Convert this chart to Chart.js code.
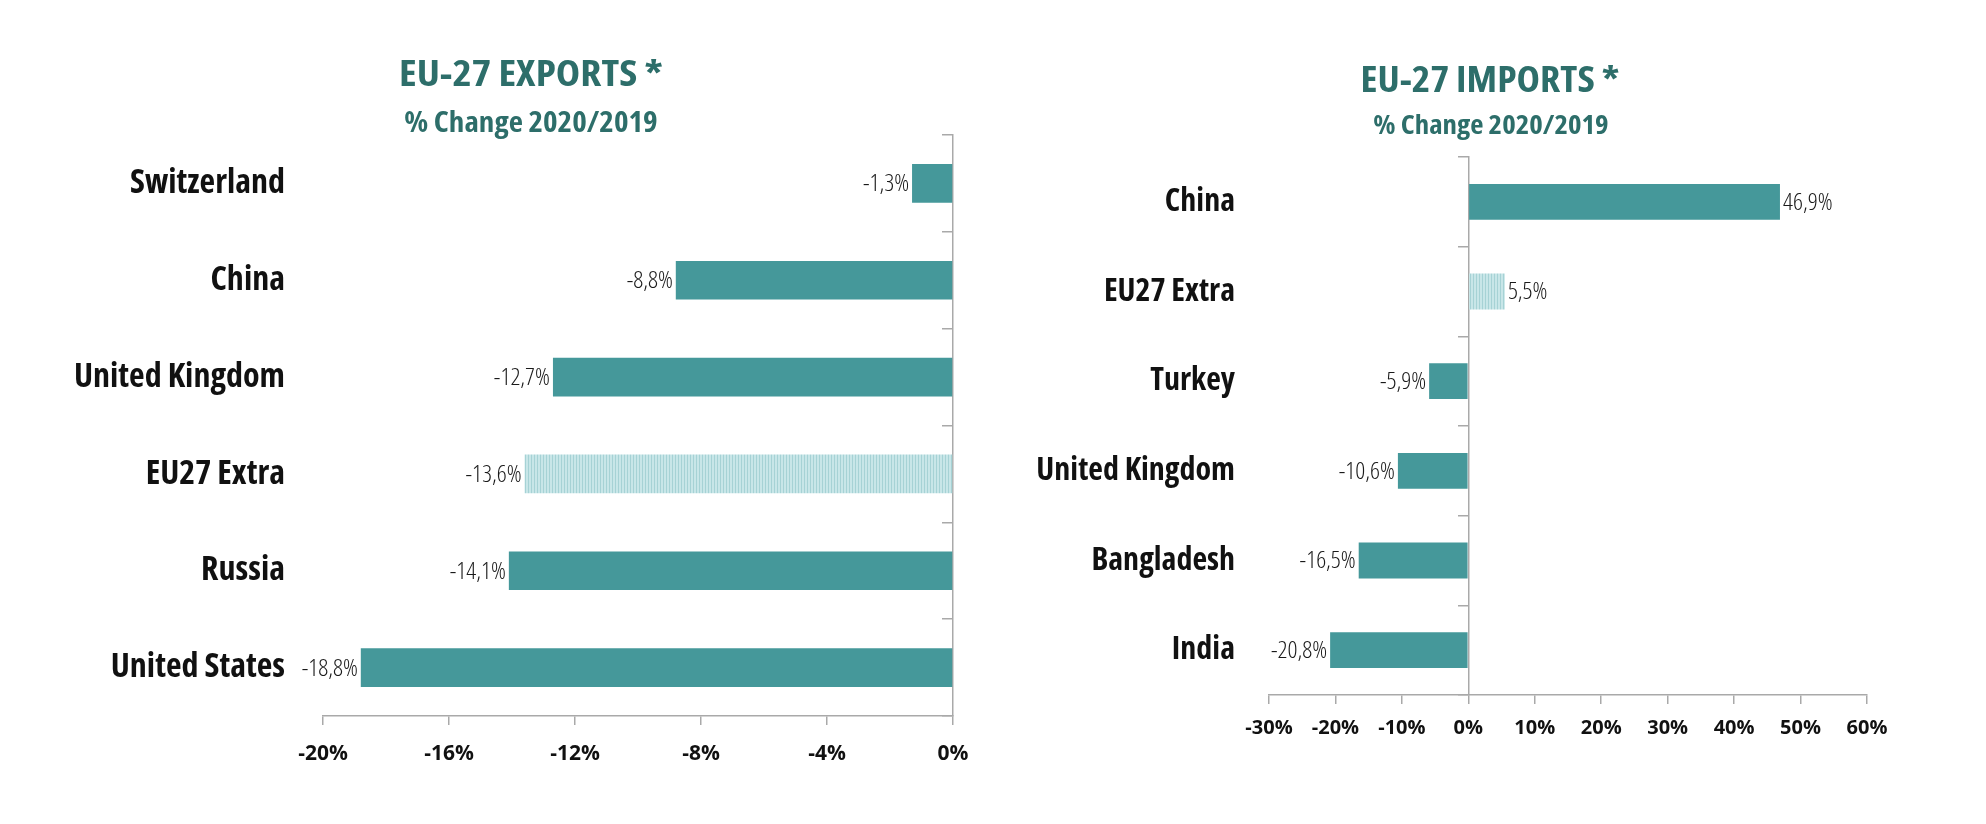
<!DOCTYPE html>
<html><head><meta charset="utf-8">
<script src="https://cdn.jsdelivr.net/npm/chart.js@4.4.1/dist/chart.umd.min.js"></script>
<style>
html,body{margin:0;padding:0;background:#fff;width:1986px;height:824px;overflow:hidden}
.panel{position:absolute;top:0;width:993px;height:824px}
.t{position:absolute;white-space:nowrap;color:#2d6e6a;font-weight:700;line-height:1}
</style></head><body>
<div class="panel" style="left:0"><canvas id="c1"></canvas></div>
<div class="panel" style="left:993px"><canvas id="c2"></canvas></div>
<div class="t" id="t1" data-sx="1.13" style="left:531px;top:72px;font-size:36.5px">EU-27 EXPORTS *</div>
<div class="t" id="s1" data-sx="1.11" style="left:531px;top:121px;font-size:28px">% Change 2020/2019</div>
<div class="t" id="t2" data-sx="1.116" style="left:1490px;top:79px;font-size:35.5px">EU-27 IMPORTS *</div>
<div class="t" id="s2" data-sx="1.11" style="left:1491px;top:124px;font-size:26px">% Change 2020/2019</div>
<script>
// ---- data ----
const exportCategories = ['Switzerland', 'China', 'United Kingdom', 'EU27 Extra', 'Russia', 'United States'];
const exportValues = [-1.3, -8.8, -12.7, -13.6, -14.1, -18.8];
const exportTickValues = [-20, -16, -12, -8, -4, 0];

const importCategories = ['China', 'EU27 Extra', 'Turkey', 'United Kingdom', 'Bangladesh', 'India'];
const importValues = [46.9, 5.5, -5.9, -10.6, -16.5, -20.8];
const importTickValues = [-30, -20, -10, 0, 10, 20, 30, 40, 50, 60];

const highlightCategory = 'EU27 Extra';

// ---- font selection ----
function pickFamily() {
  const c = document.createElement('canvas').getContext('2d');
  const t = 'United Kingdom Switzerland';
  c.font = "bold 30px 'Open Sans'"; const wN = c.measureText(t).width;
  c.font = "bold condensed 30px 'Open Sans'"; const wC = c.measureText(t).width;
  if (wC < wN * 0.92) return {family: "'Open Sans', sans-serif", stretch: true};
  c.font = "bold 30px monospace"; const wM = c.measureText(t).width;
  c.font = "bold 30px 'Open Sans Condensed', monospace"; const wOC = c.measureText(t).width;
  if (Math.abs(wOC - wM) > 1) return {family: "'Open Sans Condensed', sans-serif", stretch: false};
  return {family: "'Liberation Sans Narrow', 'DejaVu Sans Condensed', sans-serif", stretch: false};
}
const F = pickFamily();
const W = (w) => F.stretch ? (w + ' condensed') : String(w);
['t1','s1','t2','s2'].forEach(id => {
  const el = document.getElementById(id);
  el.style.fontFamily = F.family;
  if (F.stretch) el.style.fontStretch = 'condensed';
  el.style.transform = 'translate(-50%,-50%) scaleX(' + el.dataset.sx + ')';
});

const TEAL = '#45989a';
const AXIS = '#a9a9a9';
function stripes(bg, line, period) {
  const p = document.createElement('canvas'); p.width = period; p.height = 4;
  const g = p.getContext('2d');
  g.fillStyle = bg; g.fillRect(0, 0, period, 4);
  g.fillStyle = line; g.fillRect(0, 0, 1, 4);
  return g.createPattern(p, 'repeat');
}
const fmt = v => v.toFixed(1).replace('.', ',') + '%';

const valueLabels = {
  id: 'valueLabels',
  afterDatasetsDraw(chart, args, opts) {
    const ctx = chart.ctx;
    const meta = chart.getDatasetMeta(0);
    const vals = chart.data.datasets[0].data;
    ctx.save();
    ctx.font = W(300) + ' ' + opts.size + 'px ' + F.family;
    ctx.fillStyle = '#1a1a1a';
    ctx.textBaseline = 'middle';
    meta.data.forEach((bar, i) => {
      const v = vals[i];
      if (v < 0) { ctx.textAlign = 'right'; ctx.fillText(fmt(v), bar.x - 3, bar.y + 1); }
      else { ctx.textAlign = 'left'; ctx.fillText(fmt(v), bar.x + 3, bar.y + 1); }
    });
    ctx.restore();
  }
};

function makeChart(id, cats, vals, tickVals, L) {
  const patt = stripes('#c8e6e8', '#a6d2d5', 3);
  return new Chart(document.getElementById(id), {
    type: 'bar',
    data: {
      labels: cats,
      datasets: [{
        data: vals, xAxisID: 'x', yAxisID: 'y',
        backgroundColor: cats.map(c => c === highlightCategory ? patt : TEAL),
        borderWidth: 0, barPercentage: 0.4, categoryPercentage: 1
      }]
    },
    options: {
      indexAxis: 'y', responsive: true, maintainAspectRatio: false, animation: false,
      layout: {padding: {left: 0, right: L.padR, top: L.padT, bottom: L.padB}},
      plugins: {legend: {display: false}, tooltip: {enabled: false}, valueLabels: {size: L.valSize}},
      scales: {
        x: {
          type: 'linear', min: tickVals[0], max: tickVals[tickVals.length - 1],
          ticks: {stepSize: tickVals[1] - tickVals[0], callback: v => v + '%', autoSkip: false, maxRotation: 0,
                  font: {family: F.family, size: L.xSize, weight: 'bold'}, color: '#111', padding: L.xPad},
          grid: {drawOnChartArea: false, drawTicks: true, tickLength: 9, color: AXIS, lineWidth: 1.5},
          border: {display: true, color: AXIS, width: 1.5},
          afterFit: s => { s.height = 50; }
        },
        y: {
          type: 'category', position: 'left',
          grid: {display: false, drawTicks: false}, border: {display: false},
          ticks: {font: {family: F.family, size: L.ySize, weight: W('bold')}, color: '#111', padding: L.yPad},
          afterFit: s => { s.width = L.yW; }
        },
        yz: {
          type: 'category', axis: 'y', position: {x: 0},
          grid: {display: true, offset: true, drawOnChartArea: false, drawTicks: true, tickLength: 10, color: AXIS, lineWidth: 1.5},
          border: {display: true, color: AXIS, width: 1.5},
          ticks: {display: false}
        }
      }
    },
    plugins: [valueLabels]
  });
}

makeChart('c1', exportCategories, exportValues, exportTickValues,
  {padT: 135, padB: 58, padR: 40, yW: 323, yPad: 38, xPad: 16, xSize: 21, ySize: 34, valSize: 24.5});
makeChart('c2', importCategories, importValues, importTickValues,
  {padT: 157, padB: 79, padR: 119, yW: 276, yPad: 34, xPad: 12, xSize: 20, ySize: 32, valSize: 24.5});
</script>
</body></html>
